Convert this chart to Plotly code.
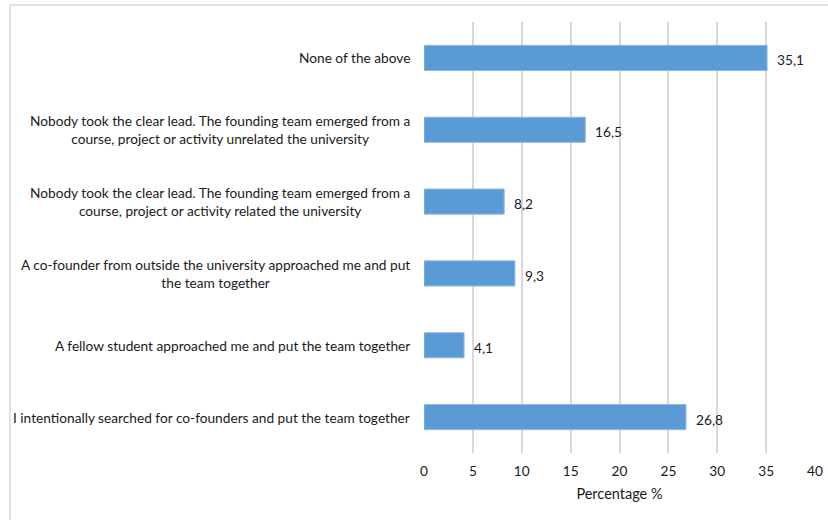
import plotly.graph_objects as go

# Survey answers, listed top to bottom as shown on the chart
categories = [
    "None of the above",
    "Nobody took the clear lead. The founding team emerged from a<br>course, project or activity unrelated the university",
    "Nobody took the clear lead. The founding team emerged from a<br>course, project or activity related the university",
    "A co-founder from outside the university approached me and put<br>the team together",
    "A fellow student approached me and put the team together",
    "I intentionally searched for co-founders and put the team together",
]
percentages = [35.1, 16.5, 8.2, 9.3, 4.1, 26.8]
x_ticks = [0, 5, 10, 15, 20, 25, 30, 35, 40]

W, H = 828, 520
L, R, T, B = 424, 13, 22, 67
pw, ph = W - L - R, H - T - B

FONT = "Lato, Carlito, Calibri, sans-serif"
TXT = "#1a1a1a"

fig = go.Figure(
    go.Bar(
        x=percentages,
        y=list(range(len(categories))),
        orientation="h",
        width=0.35,
        marker=dict(color="#5b9bd5", line=dict(color="#8fbbe3", width=1)),
        hoverinfo="skip",
    )
)

annotations = []
# category labels, centred multi-line text right-aligned against the axis
for i, c in enumerate(categories):
    annotations.append(dict(
        x=0, xref="paper", y=i, yref="y", text=c, showarrow=False,
        xanchor="right", yanchor="middle", align="center", xshift=-12,
        font=dict(family=FONT, size=13.7, color=TXT),
    ))
# value labels with decimal comma
for i, v in enumerate(percentages):
    annotations.append(dict(
        x=v, xref="x", y=i, yref="y", text=f"{v:.1f}".replace(".", ","),
        showarrow=False, xanchor="left", yanchor="middle", xshift=8, yshift=-2,
        font=dict(family=FONT, size=13.7, color=TXT),
    ))

fig.update_layout(
    width=W, height=H,
    margin=dict(l=L, r=R, t=T, b=B, autoexpand=False),
    paper_bgcolor="white", plot_bgcolor="white",
    showlegend=False,
    bargap=0.65,
    annotations=annotations,
    xaxis=dict(
        range=[0, 40], tickvals=x_ticks, ticktext=[str(t) for t in x_ticks],
        automargin=False,
        showgrid=True, gridcolor="#d9d9d9", gridwidth=1.5,
        zeroline=False, showline=False, ticks="", ticklabelstandoff=8,
        tickfont=dict(family=FONT, size=13.7, color=TXT),
        title=dict(text="Percentage %", font=dict(family=FONT, size=14.5, color=TXT), standoff=11),
    ),
    yaxis=dict(
        range=[len(categories) - 0.5, -0.5], automargin=False,
        showticklabels=False, showgrid=False, zeroline=False, ticks="",
    ),
    shapes=[
        # light frame around the chart area
        dict(type="rect", xref="paper", yref="paper",
             x0=(10 - L) / pw, x1=2.0,
             y0=-0.5, y1=(H - B - 5) / ph,
             line=dict(color="#d9d9d9", width=1.5), fillcolor="rgba(0,0,0,0)", layer="below"),
    ],
)

fig.write_html("out.html")
